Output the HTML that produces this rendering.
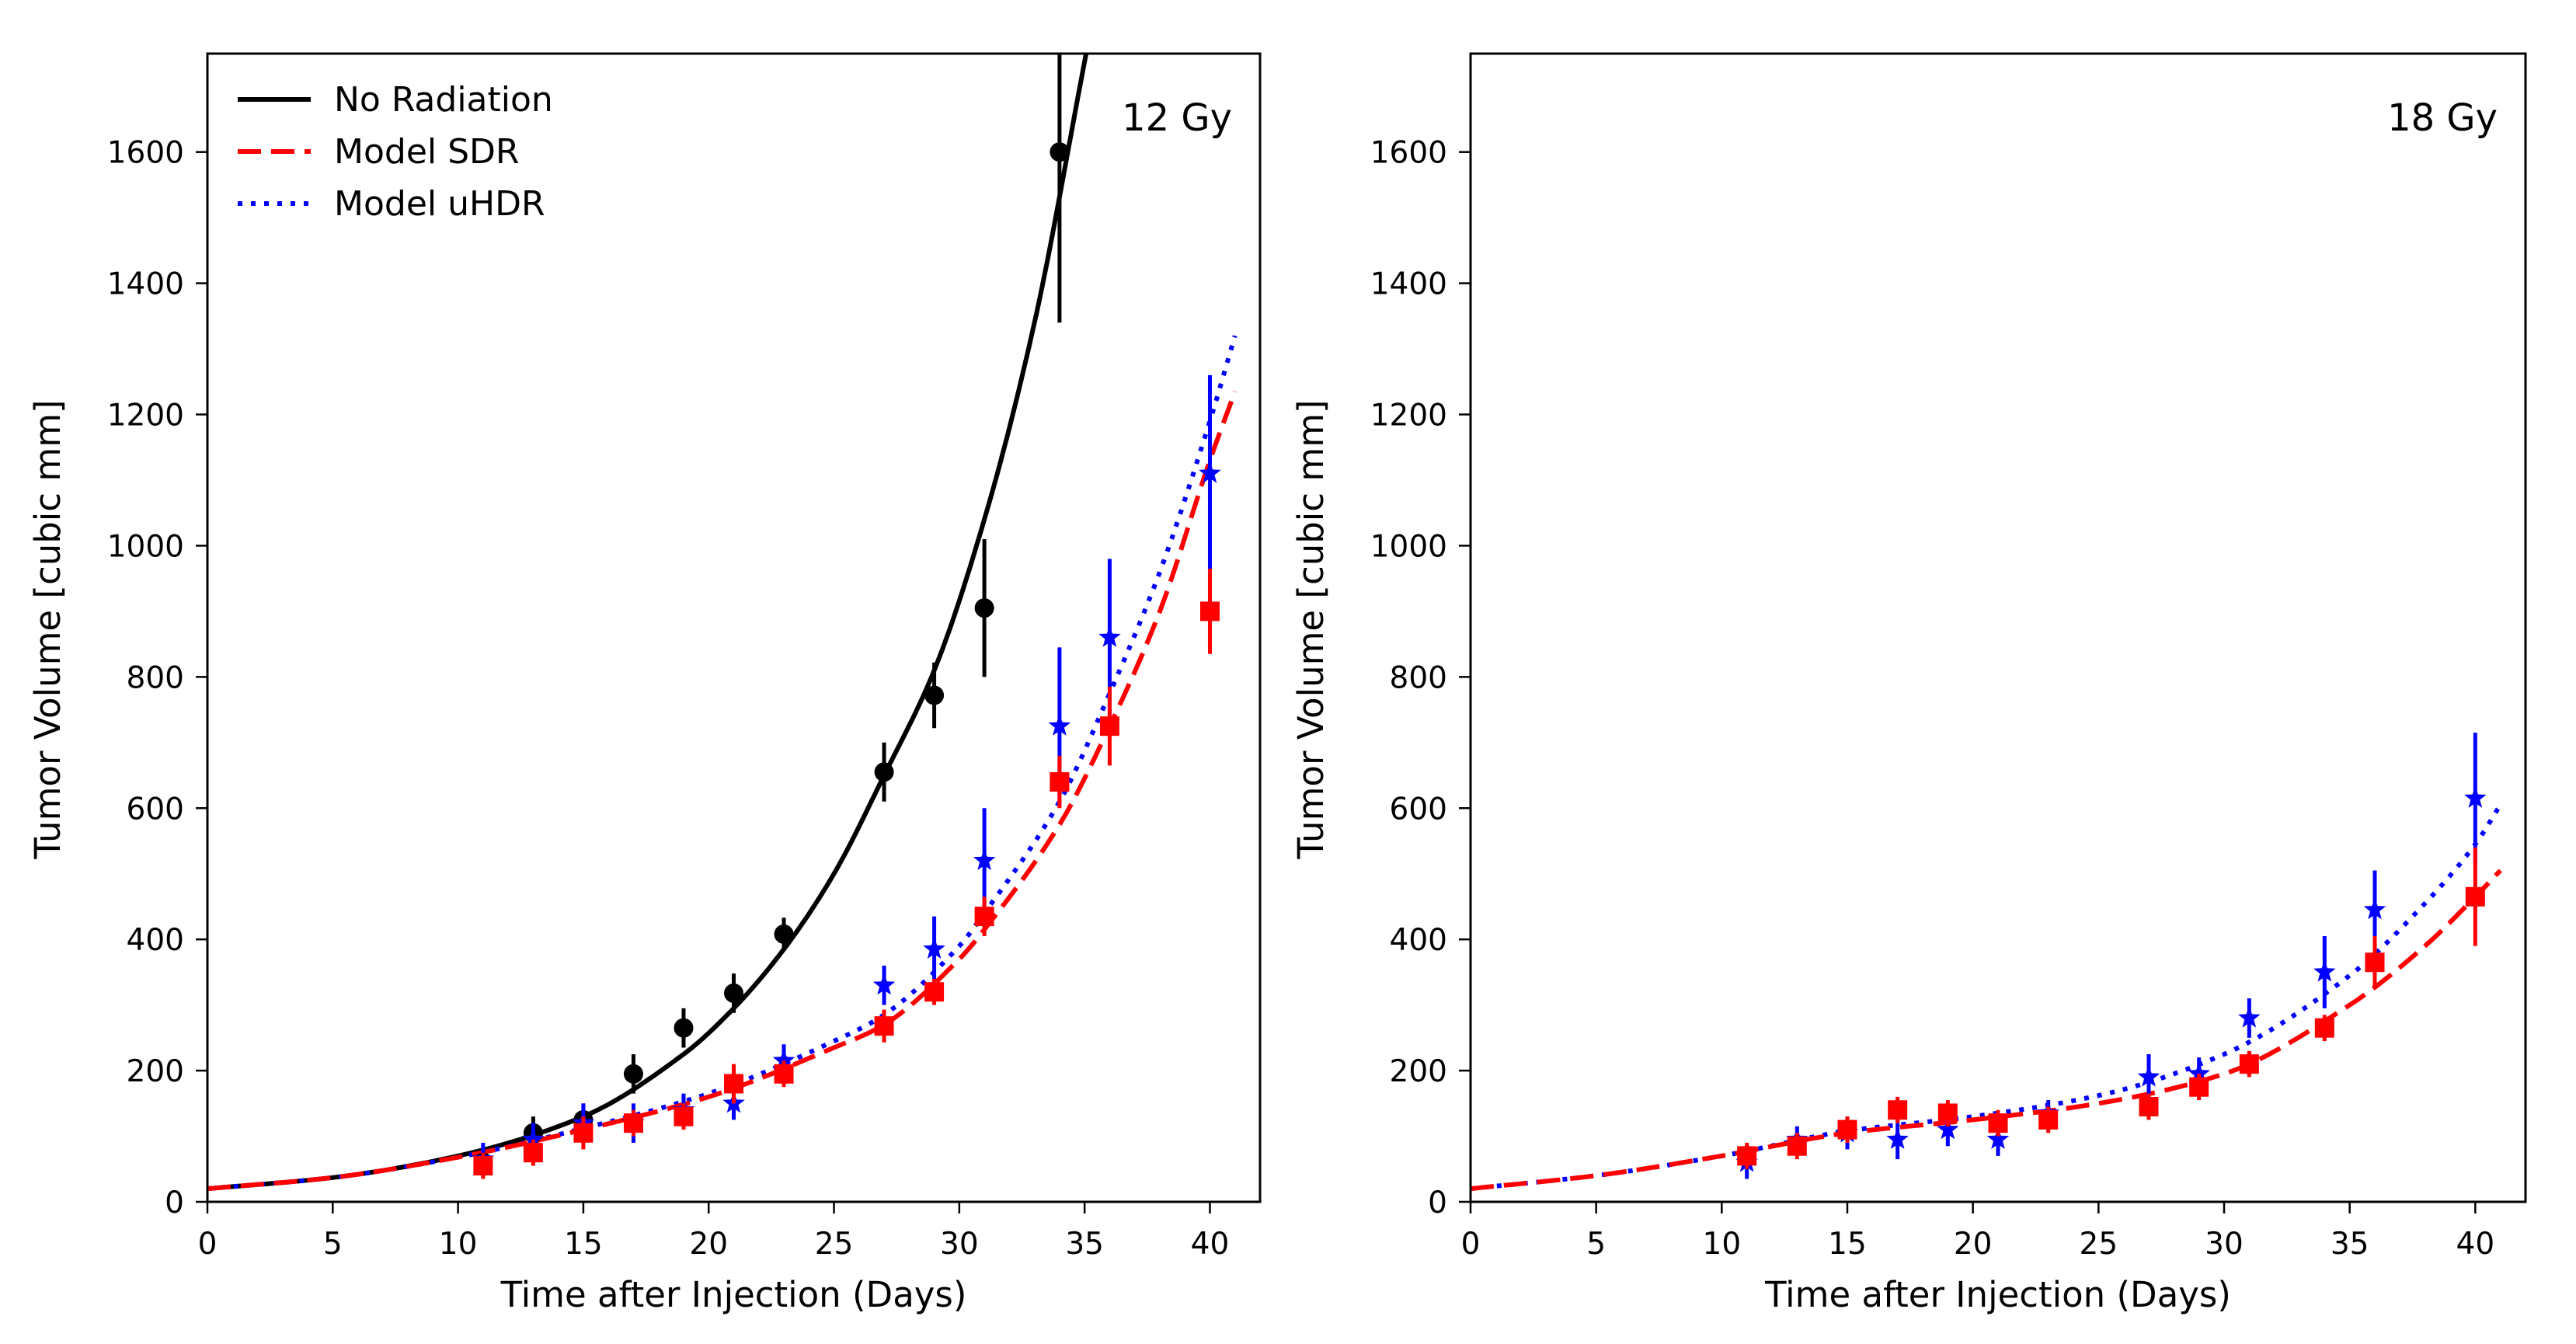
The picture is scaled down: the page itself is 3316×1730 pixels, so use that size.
<!DOCTYPE html>
<html><head><meta charset="utf-8"><style>
html,body{margin:0;padding:0;background:#fff}
svg{display:block;font-family:"DejaVu Sans","Liberation Sans",sans-serif}
</style></head><body>
<svg id="fig" width="3316" height="1730" viewBox="0 0 3316 1730" xmlns="http://www.w3.org/2000/svg"></svg>
<script>
// ---- data ----
const xTicks=[0,5,10,15,20,25,30,35,40];
const yTicks=[0,200,400,600,800,1000,1200,1400,1600];
const obsDays=[11,13,15,17,19,21,23,27,29,31,34,36,40];
// Left panel (12 Gy)
const noRadDays=[11,13,15,17,19,21,23,27,29,31,34];
const noRadVals=[60,105,125,195,265,318,408,655,772,905,1600];
const noRadErr=[20,25,25,30,30,30,25,45,50,105,260];
const sdr12Vals=[55,75,105,120,130,180,195,268,320,435,640,725,900];
const sdr12Err=[20,20,25,20,20,30,20,25,20,30,40,60,65];
const uhdr12Vals=[65,95,120,120,140,150,215,330,385,520,725,860,1110];
const uhdr12Err=[25,25,30,30,25,25,25,30,50,80,120,120,150];
const curveNoRadT=[0,5,10,15,19,21,23,25,27,29,31,33,35.06];
const curveNoRadV=[20,37,70,130,225,295,385,500,650,810,1040,1340,1750];
const curveSdr12T=[0,5,10,15,20,25,27,30,31,34,36,38,40,41];
const curveSdr12V=[20,37,68,110,160,235,270,370,415,575,725,900,1130,1235];
const curveUhdr12T=[0,5,10,15,20,25,27,30,31,34,36,38,40,41];
const curveUhdr12V=[20,37,68,112,165,245,285,390,440,610,775,960,1190,1320];
// Right panel (18 Gy)
const sdr18Vals=[70,85,110,140,135,120,125,145,175,210,265,365,465];
const sdr18Err=[20,20,20,20,20,20,20,20,20,20,20,40,75];
const uhdr18Vals=[60,95,105,95,110,95,135,190,195,280,350,445,615];
const uhdr18Err=[25,20,25,30,25,25,20,35,25,30,55,60,100];
const curveSdr18T=[0,5,10,15,20,25,30,35,38,40,41];
const curveSdr18V=[20,40,70,105,125,150,195,300,390,465,505];
const curveUhdr18T=[0,5,10,15,20,25,30,35,38,40,41];
const curveUhdr18V=[20,40,70,108,130,162,225,345,455,545,605];

const NS="http://www.w3.org/2000/svg";
const svg=document.getElementById('fig');
function el(tag,attrs,parent){const e=document.createElementNS(NS,tag);for(const k in attrs)e.setAttribute(k,attrs[k]);(parent||svg).appendChild(e);return e;}

function monoPath(T,V,sx,sy){
  const n=T.length,d=[],m=[];
  for(let i=0;i<n-1;i++)d.push((V[i+1]-V[i])/(T[i+1]-T[i]));
  m[0]=d[0];m[n-1]=d[n-2];
  for(let i=1;i<n-1;i++)m[i]=(d[i-1]*d[i]<=0)?0:2/(1/d[i-1]+1/d[i]);
  let p='M'+sx(T[0]).toFixed(1)+','+sy(V[0]).toFixed(1);
  for(let i=0;i<n-1;i++){
    const h=T[i+1]-T[i];
    for(let s=1;s<=20;s++){
      const t=s/20,h00=2*t*t*t-3*t*t+1,h10=t*t*t-2*t*t+t,h01=-2*t*t*t+3*t*t,h11=t*t*t-t*t;
      const v=h00*V[i]+h10*h*m[i]+h01*V[i+1]+h11*h*m[i+1];
      p+=' L'+sx(T[i]+t*h).toFixed(1)+','+sy(v).toFixed(1);
    }
  }
  return p;
}

function starPts(cx,cy,r){let s='';for(let i=0;i<10;i++){const a=-Math.PI/2+i*Math.PI/5,rr=i%2?r*0.42:r;s+=(cx+rr*Math.cos(a)).toFixed(1)+','+(cy+rr*Math.sin(a)).toFixed(1)+' ';}return s;}

function panel(name,x0,W,label,curves,series,legend){
  const top=69,bot=1547;
  const sx=v=>x0+v/42*W, sy=v=>bot-v/1750*(bot-top);
  const g=el('g',{});  
  const clip=el('clipPath',{id:name+'-clip'},g); el('rect',{x:x0,y:top,width:W,height:bot-top},clip);
  const plot=el('g',{'clip-path':'url(#'+name+'-clip)'},g);
   
  curves.forEach(c=>{
    const p=el('path',{d:monoPath(c.T,c.V,sx,sy),fill:'none',stroke:c.color,'stroke-width':6,'stroke-dasharray':c.dash||'none'},plot);
     
  });
  series.forEach(s=>{
    const sg=el('g',{},plot);  
    s.days.forEach((d,i)=>{
      const cx=sx(d),cy=sy(s.vals[i]);
      const eb=el('line',{x1:cx,x2:cx,y1:sy(s.vals[i]-s.err[i]),y2:sy(s.vals[i]+s.err[i]),stroke:s.color,'stroke-width':5},sg);
       
      let mk;
      if(s.marker==='o') mk=el('circle',{cx:cx,cy:cy,r:12.5,fill:s.color},sg);
      else if(s.marker==='s') mk=el('rect',{x:cx-12.5,y:cy-12.5,width:25,height:25,fill:s.color},sg);
      else mk=el('polygon',{points:starPts(cx,cy,15),fill:s.color},sg);
       
    });
  });
  const fr=el('rect',{x:x0,y:top,width:W,height:bot-top,fill:'none',stroke:'#000','stroke-width':3},g);
   
  xTicks.forEach(t=>{
    const X=sx(t);
    const tk=el('line',{x1:X,x2:X,y1:bot,y2:bot+15,stroke:'#000','stroke-width':2.5},g);
     
    const tx=el('text',{x:X,y:1614,'font-size':39,'text-anchor':'middle'},g); tx.textContent=t;
     
  });
  yTicks.forEach(t=>{
    const Y=sy(t);
    const tk=el('line',{x1:x0-15,x2:x0,y1:Y,y2:Y,stroke:'#000','stroke-width':2.5},g);
     
    const tx=el('text',{x:x0-30,y:Y+14,'font-size':39,'text-anchor':'end'},g); tx.textContent=t;
     
  });
  const xl=el('text',{x:x0+W/2,y:1682,'font-size':45,'text-anchor':'middle'},g); xl.textContent='Time after Injection (Days)';
   
  const yl=el('text',{x:0,y:0,'font-size':45,'text-anchor':'middle',transform:'translate('+(x0-190)+',810) rotate(-90)'},g); yl.textContent='Tumor Volume [cubic mm]';
   
  const dl=el('text',{x:x0+W-36,y:168,'font-size':48,'text-anchor':'end'},g); dl.textContent=label;
   
  if(legend){
    const lg=el('g',{},g);  
    legend.forEach((e,i)=>{
      const y=128+i*67;
      const ln=el('line',{x1:306,x2:400,y1:y,y2:y,stroke:e.color,'stroke-width':6,'stroke-dasharray':e.dash||'none'},lg);
       
      const t=el('text',{x:430,y:y+15,'font-size':44},lg); t.textContent=e.label;
       
    });
  }
}

const red='#ff0000',blue='#0000ff';
const dashR='30 13', dotB='6 11';
panel('left-12gy',267,1355,'12 Gy',[
  {name:'no-radiation-curve',T:curveNoRadT,V:curveNoRadV,color:'#000'},
  {name:'model-uhdr-curve',T:curveUhdr12T,V:curveUhdr12V,color:blue,dash:dotB},
  {name:'model-sdr-curve',T:curveSdr12T,V:curveSdr12V,color:red,dash:dashR}
],[
  {name:'no-radiation-data',days:noRadDays,vals:noRadVals,err:noRadErr,color:'#000',marker:'o'},
  {name:'uhdr-data',days:obsDays,vals:uhdr12Vals,err:uhdr12Err,color:blue,marker:'*'},
  {name:'sdr-data',days:obsDays,vals:sdr12Vals,err:sdr12Err,color:red,marker:'s'}
],[
  {label:'No Radiation',color:'#000'},
  {label:'Model SDR',color:red,dash:dashR},
  {label:'Model uHDR',color:blue,dash:dotB}
]);
panel('right-18gy',1893,1358,'18 Gy',[
  {name:'model-uhdr-curve',T:curveUhdr18T,V:curveUhdr18V,color:blue,dash:dotB},
  {name:'model-sdr-curve',T:curveSdr18T,V:curveSdr18V,color:red,dash:dashR}
],[
  {name:'uhdr-data',days:obsDays,vals:uhdr18Vals,err:uhdr18Err,color:blue,marker:'*'},
  {name:'sdr-data',days:obsDays,vals:sdr18Vals,err:sdr18Err,color:red,marker:'s'}
],null);
</script>
</body></html>
